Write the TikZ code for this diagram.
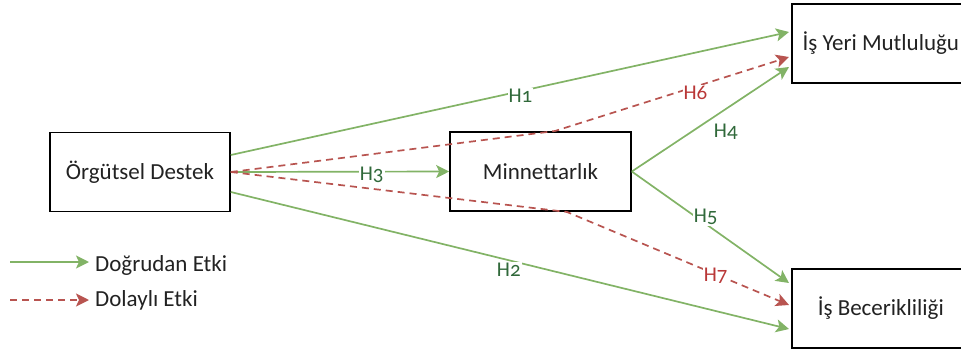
\documentclass[tikz,border=0pt]{standalone}
\usepackage{fontspec}
\setmainfont[Ligatures=CommonOff]{Carlito}
\newfontfamily\labelfont[Numbers=OldStyle,Ligatures=CommonOff]{Carlito}
\usetikzlibrary{arrows.meta,calc}
\definecolor{directgreen}{HTML}{82B366}
\definecolor{indirectred}{HTML}{B85450}
\definecolor{greentext}{RGB}{48,105,58}
\definecolor{redtext}{RGB}{185,55,55}
\definecolor{boxtext}{RGB}{34,34,34}
\begin{document}
\begin{tikzpicture}[x=1pt,y=-1pt,
  every node/.style={font=\fontsize{23}{27}\selectfont, text=boxtext},
  varbox/.style={draw=black, line width=1.6pt, minimum width=180pt, minimum height=79pt, inner sep=0pt},
  tip/.style={-{Stealth[length=13pt,width=13pt,inset=3pt]}},
  direct/.style={draw=directgreen, line width=1.7pt, tip},
  indirect/.style={draw=indirectred, line width=1.7pt, dash pattern=on 7pt off 5pt, tip},
  hyp/.style={fill=white, inner sep=1pt, font=\labelfont\fontsize{21}{24}\selectfont},
  glbl/.style={hyp, text=greentext},
  rlbl/.style={hyp, text=redtext}]
\useasboundingbox (0,0) rectangle (961,351);
\clip (0,0) rectangle (961,351);

% variables
\node[varbox] (od)  at (140,172)   {Örgütsel Destek};
\node[varbox, minimum width=181pt] (min) at (540.5,171.5) {Minnettarlık};
\node[varbox, minimum width=178pt, anchor=west] (iym) at (791,43.5)  {İş Yeri Mutluluğu};
\node[varbox, minimum width=178pt, anchor=west] (ib)  at (791,308.5) {İş Becerikliliği};

% bend points of the indirect paths
\coordinate (b6) at (555,131);
\coordinate (b7) at (567,212);

% direct effects
\draw[direct] ($(od.east)+(0,-17)$) -- ($(iym.west)+(-2,-11.5)$)
  node[glbl, pos=0.519, yshift=-5pt] {H1};
\draw[direct] ($(od.east)+(0,20)$) -- ($(ib.west)+(-2,20.5)$)
  node[glbl, pos=0.498, yshift=-10pt] {H2};
\draw[direct] (od.east) -- (min.west)
  node[glbl, pos=0.645, yshift=-3pt] {H3};
\draw[direct] (min.east) -- ($(iym.west)+(-2,23.5)$)
  node[glbl, pos=0.56, xshift=6pt, yshift=-19pt] {H4};
\draw[direct] (min.east) -- ($(ib.west)+(-2,-25.5)$)
  node[glbl, pos=0.47, yshift=7pt] {H5};

% indirect effects
\draw[indirect] (od.east) -- (b6) -- ($(iym.west)+(-2,13.5)$)
  node[rlbl, pos=0.6, yshift=-6pt] {H6};
\draw[indirect] (od.east) -- (b7) -- ($(ib.west)+(-2,-3.5)$)
  node[rlbl, pos=0.67, yshift=-1pt] {H7};

% legend
\coordinate (la) at (10,262);
\coordinate (lb) at (89,262);
\coordinate (lc) at (10,300);
\coordinate (ld) at (89,300);
\draw[direct] (la) -- (lb);
\draw[indirect] (lc) -- (ld);
\node[anchor=west, inner sep=0pt] (lt1) at (95,265) {Doğrudan Etki};
\node[anchor=west, inner sep=0pt] (lt2) at (95,300) {Dolaylı Etki};
\end{tikzpicture}
\end{document}
